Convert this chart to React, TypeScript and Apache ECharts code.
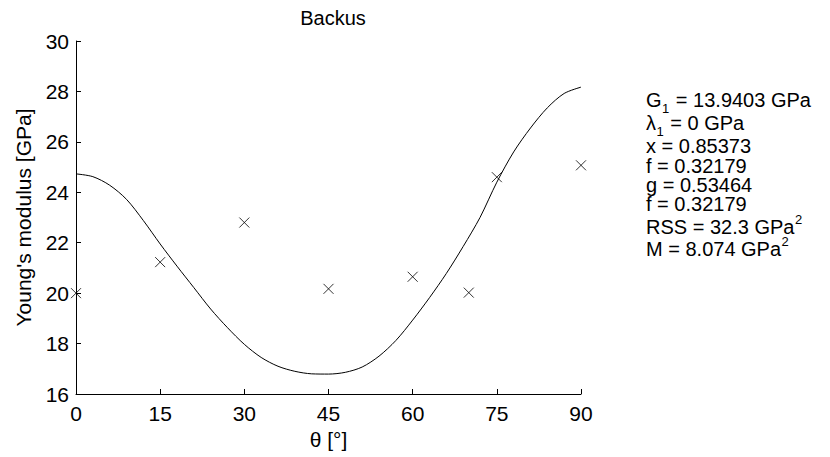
import React, { useEffect, useRef } from "react";
import * as echarts from "echarts";

const titleText = "Backus";
const xAxisTitle = "θ [°]";
const yAxisTitle = "Young's modulus [GPa]";

// measured points (angle in degrees, Young's modulus in GPa)
const measuredAngles = [0, 15, 30, 45, 60, 70, 75, 90];
const measuredValues = [20.0, 21.23, 22.8, 20.17, 20.65, 20.02, 24.6, 25.07];

// fitted Backus curve, every 3 degrees
const fitAngles = [0, 3, 6, 9, 12, 15, 18, 21, 24, 27, 30, 33, 36, 39, 42, 45, 48, 51, 54, 57, 60, 63, 66, 69, 72, 75, 78, 81, 84, 87, 90];
const fitValues = [
  24.73, 24.62, 24.28, 23.72, 22.88, 21.95, 21.07, 20.22, 19.37, 18.63, 17.97, 17.45, 17.1, 16.9, 16.8,
  16.79, 16.86, 17.07, 17.5, 18.12, 18.93, 19.82, 20.78, 21.85, 23.0, 24.4, 25.6, 26.55, 27.35, 27.92, 28.17,
];

const xTicks = { min: 0, max: 90, interval: 15 };
const yTicks = { min: 16, max: 30, interval: 2 };

// annotation lines: [main, subscript, rest, superscript]
const annotationLines: [string, string, string, string][] = [
  ["G", "1", " = 13.9403 GPa", ""],
  ["λ", "1", " = 0 GPa", ""],
  ["x = 0.85373", "", "", ""],
  ["f = 0.32179", "", "", ""],
  ["g = 0.53464", "", "", ""],
  ["f = 0.32179", "", "", ""],
  ["RSS = 32.3 GPa", "", "", "2"],
  ["M = 8.074 GPa", "", "", "2"],
];

const FONT = "'Liberation Sans', Arial, Helvetica, sans-serif";

export default function App() {
  const ref = useRef<HTMLDivElement>(null);

  useEffect(() => {
    document.body.style.margin = "0";
    if (!ref.current) return;
    const chart = echarts.init(ref.current, null, { renderer: "svg" });

    const mainSize = 20;
    const smallSize = 13;
    const canvas = document.createElement("canvas");
    const ctx = canvas.getContext("2d")!;
    const measure = (s: string, size: number) => {
      ctx.font = `${size}px ${FONT}`;
      return ctx.measureText(s).width;
    };

    const x0 = 646;
    const lineYs = [100, 123, 146, 166, 185, 204, 227, 249];
    const txt = (text: string, x: number, y: number, size: number, lh: number) => ({
      type: "text",
      silent: true,
      style: {
        text,
        x,
        y,
        fontSize: size,
        fontFamily: FONT,
        fill: "#000",
        verticalAlign: "middle",
        align: "left",
        lineHeight: lh,
      },
    });
    const annot: any[] = [];
    annotationLines.forEach((l, i) => {
      const y = lineYs[i];
      let x = x0;
      annot.push(txt(l[0], x, y, mainSize, 18));
      x += measure(l[0], mainSize);
      if (l[1]) {
        x += 0.5;
        annot.push(txt(l[1], x, y + 8, smallSize, 12));
        x += measure(l[1], smallSize) + 1;
      }
      if (l[2]) {
        annot.push(txt(l[2], x, y, mainSize, 18));
        x += measure(l[2], mainSize);
      }
      if (l[3]) {
        x += 0.5;
        annot.push(txt(l[3], x, y - 8, smallSize, 12));
      }
    });

    chart.setOption({
      animation: false,
      backgroundColor: "#fff",
      title: {
        text: titleText,
        left: 328,
        top: 3,
        textAlign: "center",
        textStyle: { fontSize: 20, fontWeight: "normal", color: "#000", fontFamily: FONT },
      },
      grid: { left: 76, right: 249, top: 41, bottom: 63, containLabel: false, outerBoundsMode: "none" },
      xAxis: {
        type: "value",
        min: xTicks.min,
        max: xTicks.max,
        interval: xTicks.interval,
        name: xAxisTitle,
        nameLocation: "middle",
        nameGap: 35,
        nameTextStyle: { fontSize: 21, color: "#000", fontFamily: FONT },
        axisLine: { lineStyle: { color: "#000", width: 1 } },
        axisTick: { inside: true, length: 5, lineStyle: { color: "#000" } },
        axisLabel: { fontSize: 21, color: "#000", fontFamily: FONT, margin: 9 },
        splitLine: { show: false },
      },
      yAxis: {
        type: "value",
        min: yTicks.min,
        max: yTicks.max,
        interval: yTicks.interval,
        name: yAxisTitle,
        nameLocation: "middle",
        nameGap: 42,
        nameRotate: 90,
        nameTextStyle: { fontSize: 21, color: "#000", fontFamily: FONT },
        axisLine: { lineStyle: { color: "#000", width: 1 } },
        axisTick: { inside: true, length: 5, lineStyle: { color: "#000" } },
        axisLabel: { fontSize: 21, color: "#000", fontFamily: FONT, margin: 7 },
        splitLine: { show: false },
      },
      series: [
        {
          type: "line",
          data: fitAngles.map((a, i) => [a, fitValues[i]]),
          smooth: 0.3,
          showSymbol: false,
          symbol: "none",
          lineStyle: { color: "#000", width: 1 },
          z: 2,
        },
        {
          type: "scatter",
          data: measuredAngles.map((a, i) => [a, measuredValues[i]]),
          symbol: "path://M0,0L10,10M10,0L0,10",
          symbolSize: 10,
          itemStyle: { color: "none", borderColor: "#000", borderWidth: 1 },
          z: 3,
        },
      ],
      graphic: annot,
    });

    return () => chart.dispose();
  }, []);

  return <div ref={ref} style={{ width: 830, height: 457 }} />;
}
